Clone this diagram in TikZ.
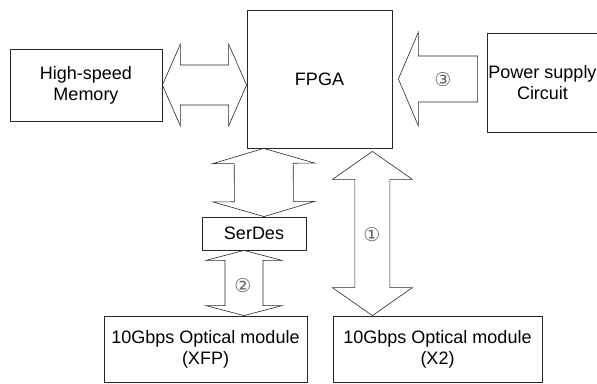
\documentclass[tikz,border=0pt]{standalone}
\usepackage{fontspec}
\setmainfont{Liberation Sans}
\newfontfamily\circfont{DejaVu Sans}
\usepackage{xcolor}
\usetikzlibrary{calc}
\definecolor{linegray}{RGB}{40,40,40}
\definecolor{numgray}{RGB}{100,100,100}

% fat double arrow: from, to, head length, head half width, shaft half width
\newcommand{\dblarrow}[5]{%
  \coordinate (ha) at ($(#1)!#3!(#2)$);
  \coordinate (hb) at ($(#2)!#3!(#1)$);
  \draw[fatarrow] (#1) -- ($(ha)!#4!90:(#2)$) -- ($(ha)!#5!90:(#2)$)
    -- ($(hb)!#5!-90:(#1)$) -- ($(hb)!#4!-90:(#1)$) -- (#2)
    -- ($(hb)!#4!90:(#1)$) -- ($(hb)!#5!90:(#1)$)
    -- ($(ha)!#5!-90:(#2)$) -- ($(ha)!#4!-90:(#2)$) -- cycle;
}
% fat single arrow: tip, tail, head length, head half width, shaft half width
\newcommand{\onearrow}[5]{%
  \coordinate (ha) at ($(#1)!#3!(#2)$);
  \draw[fatarrow] (#1) -- ($(ha)!#4!90:(#2)$) -- ($(ha)!#5!90:(#2)$)
    -- ($(#2)!#5!-90:(#1)$) -- ($(#2)!#5!90:(#1)$)
    -- ($(ha)!#5!-90:(#2)$) -- ($(ha)!#4!-90:(#2)$) -- cycle;
}

\begin{document}
\begin{tikzpicture}[x=1pt,y=-1pt,
  block/.style={draw=linegray, line width=0.8pt, align=center, inner sep=0pt,
    font=\fontsize{18}{21}\selectfont},
  fatarrow/.style={draw=linegray, line width=0.6pt, line join=miter},
  num/.style={font=\circfont\fontsize{19}{19}\selectfont, text=numgray, inner sep=0pt}]
\useasboundingbox (0,0) rectangle (597,383);
% blocks
\node[block, minimum width=152pt, minimum height=72pt] (mem) at (86,85) {High-speed\\Memory};
\node[block, minimum width=145pt, minimum height=138pt] (fpga) at (319.5,79) {\raisebox{-6pt}{FPGA}};
\node[block, minimum width=111pt, minimum height=99pt] (power) at (542.5,82.5) {\raisebox{-8pt}{\shortstack{Power supply\\[1pt]Circuit}}};
\node[block, minimum width=104pt, minimum height=33pt] (serdes) at (254,233.5) {SerDes};
\node[block, minimum width=203pt, minimum height=66pt] (xfp) at (205.5,349) {10Gbps Optical module\\(XFP)};
\node[block, minimum width=209pt, minimum height=66pt] (x2) at (437.5,349) {10Gbps Optical module\\(X2)};

% memory <-> fpga
\coordinate (m1) at (mem.east);
\coordinate (m2) at (m1 -| fpga.west);
\dblarrow{m1}{m2}{18pt}{41pt}{20pt}

% power -> fpga
\coordinate (p1) at ([xshift=6pt]fpga.east);
\coordinate (p2) at ([xshift=-9pt]p1 -| power.west);
\onearrow{p1}{p2}{20pt}{47pt}{23pt}
\node[num] (n3) at (443,80) {③};

% fpga <-> serdes
\coordinate (s1) at ([xshift=17pt]fpga.south west);
\coordinate (s2) at ([xshift=10pt]serdes.north);
\dblarrow{s1}{s2}{15pt}{51pt}{29.5pt}

% serdes <-> xfp
\coordinate (q1) at ([xshift=-10pt]serdes.south);
\coordinate (q2) at (q1 |- xfp.north);
\dblarrow{q1}{q2}{10pt}{38pt}{19pt}
\node[num] (n2) at (243,286) {②};

% fpga <-> x2
\coordinate (r1) at ([xshift=-20pt,yshift=-3pt]fpga.south east);
\coordinate (r2) at (r1 |- x2.north);
\dblarrow{r1}{r2}{28pt}{40pt}{17.5pt}
\node[num] (n1) at (372,235) {①};
\end{tikzpicture}
\end{document}
